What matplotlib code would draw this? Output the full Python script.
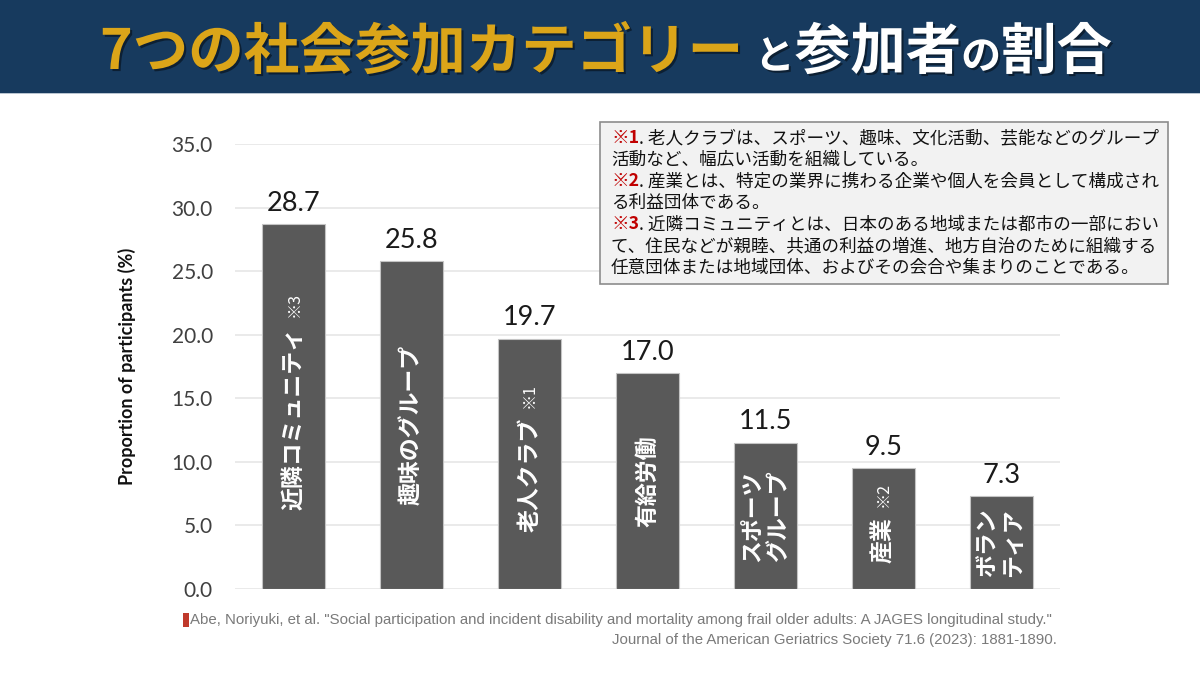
import numpy as np
import matplotlib
matplotlib.use('Agg')
import matplotlib.pyplot as plt
from matplotlib.patches import Rectangle
from matplotlib.transforms import IdentityTransform
import matplotlib.font_manager as fm
import matplotlib.patheffects as pe

# ---------------- data ----------------
categories = ['近隣コミュニティ', '趣味のグループ', '老人クラブ', '有給労働',
              'スポーツ\nグループ', '産業', 'ボラン\nティア']
category_marks = ['※3', '', '※1', '', '', '※2', '']
values = [28.7, 25.8, 19.7, 17.0, 11.5, 9.5, 7.3]
yticks = [0, 5, 10, 15, 20, 25, 30, 35]
ylabel = 'Proportion of participants (%)'

title_runs = [('7つの社会参加カテゴリー', 'gold', 1.0), ('と', 'white', 0.72),
              ('参加者', 'white', 1.0), ('の', 'white', 0.72), ('割合', 'white', 1.0)]

note_lines = [
    ('※1', '. 老人クラブは、スポーツ、趣味、文化活動、芸能などのグループ'),
    ('', '活動など、幅広い活動を組織している。'),
    ('※2', '. 産業とは、特定の業界に携わる企業や個人を会員として構成され'),
    ('', 'る利益団体である。'),
    ('※3', '. 近隣コミュニティとは、日本のある地域または都市の一部におい'),
    ('', 'て、住民などが親睦、共通の利益の増進、地方自治のために組織する'),
    ('', '任意団体または地域団体、およびその会合や集まりのことである。'),
]
citation_1 = 'Abe, Noriyuki, et al. "Social participation and incident disability and mortality among frail older adults: A JAGES longitudinal study."'
citation_2 = 'Journal of the American Geriatrics Society 71.6 (2023): 1881-1890.'

# ---------------- style ----------------
JP = ['Noto Sans CJK JP', 'DejaVu Sans']
NUM = ['Lato', 'DejaVu Sans']
avail = {f.name for f in fm.fontManager.ttflist}
CITE = ['Liberation Sans Narrow'] if 'Liberation Sans Narrow' in avail else ['Liberation Sans']
NAVY = '#173a5e'
GOLD = '#dba519'
BAR = '#595959'

W, H = 1200, 675
fig = plt.figure(figsize=(12, 6.75), dpi=100)
fig.patch.set_facecolor('white')
ID = IdentityTransform()


def fx(px):
    return px / W


def fy(py):
    return 1 - py / H


renderer = fig.canvas.get_renderer()


def text_w(s, **kw):
    t = fig.text(0, 0, s, **kw)
    bb = t.get_window_extent(renderer)
    t.remove()
    return bb.width


# header band
fig.patches.append(Rectangle((0, fy(93)), 1, 93 / H, transform=fig.transFigure,
                             facecolor=NAVY, edgecolor='none', zorder=0))
fig.patches.append(Rectangle((0, fy(94)), 1, 1 / H, transform=fig.transFigure,
                             facecolor='#b8c4d0', edgecolor='none', zorder=0))

# title
base = 38
widths = []
for txt, col, sc in title_runs:
    widths.append(text_w(txt, fontsize=base * sc, fontweight='bold', family=JP))
scale = 1000 / sum(widths)
size = base * scale
x0 = 600 - 1000 / 2
baseline = H - 69
for k, ((txt, col, sc), w) in enumerate(zip(title_runs, widths)):
    c = GOLD if col == 'gold' else 'white'
    if k == 1:
        x0 += 12
    fig.text(x0, baseline, txt, transform=ID, fontsize=size * sc, fontweight='bold',
             family=JP, color=c, ha='left', va='baseline',
             path_effects=[pe.SimplePatchShadow(offset=(1.5, -1.5), shadow_rgbFace='black', alpha=0.45),
                           pe.Normal()])
    x0 += w * scale

# axes
ax = fig.add_axes([fx(235), fy(589), fx(1060) - fx(235), fy(144) - fy(589)])
x = np.arange(len(values))
ax.bar(x, values, width=0.534, color=BAR, edgecolor='#c4c4c4', linewidth=0.8, zorder=3)
ax.set_xlim(-0.5, len(values) - 0.5)
ax.set_ylim(0, 35)
ax.set_yticks(yticks)
ax.set_yticklabels([f'{v:.1f}' for v in yticks])
ax.grid(axis='y', color='#e6e6e6', linewidth=1.2, zorder=0)
ax.set_axisbelow(True)
for s in ax.spines.values():
    s.set_visible(False)
ax.tick_params(axis='y', length=0, pad=16, labelsize=15, labelcolor='#404040')
ax.tick_params(axis='x', length=0, labelbottom=False)
for lab in ax.get_yticklabels():
    lab.set_family(NUM)
ax.set_ylabel(ylabel, family=NUM, fontweight='bold', fontsize=13, color='#111111')
ax.yaxis.set_label_coords((136 - 235) / 825, 0.5)

for i, v in enumerate(values):
    ax.annotate(f'{v:.1f}', (i, v), xytext=(0, 6), textcoords='offset points',
                ha='center', va='bottom', fontsize=19.5, family=NUM, color='#1a1a1a')

# bar labels (rotated)
fig.canvas.draw()
for i, (cat, mark, v) in enumerate(zip(categories, category_marks, values)):
    cx, cy = ax.transData.transform((i, v / 2))
    main_kw = dict(fontsize=16.5, fontweight='bold', family=JP, color='white')
    suf_kw = dict(fontsize=11.5, family=JP, color='white')
    wm = text_w(cat, **main_kw)
    gap = 10
    ws = text_w(mark, **suf_kw) if mark else 0
    total = wm + (gap + ws if mark else 0)
    start = cy - total / 2 + (6 if mark else 0)
    fig.text(cx, start + wm / 2, cat, transform=ID, rotation=90, ha='center', va='center',
             linespacing=1.15, zorder=5, **main_kw)
    if mark:
        fig.text(cx, start + wm + gap + ws / 2, mark, transform=ID, rotation=90,
                 ha='center', va='center', zorder=5, **suf_kw)

# note box
fig.patches.append(Rectangle((fx(600), fy(284)), (1168 - 600) / W, (284 - 122) / H,
                             transform=fig.transFigure, facecolor='#f2f2f2',
                             edgecolor='#8c8c8c', linewidth=1.2, zorder=1))
nb = 11.0
lw0 = (text_w(note_lines[0][0], fontsize=nb, fontweight='bold', family=JP)
       + text_w(note_lines[0][1], fontsize=nb, family=JP))
nsize = nb * (1157 - 611) / lw0
for k, (mark, txt) in enumerate(note_lines):
    yb = H - (143 + k * 21.6)
    xp = 611
    if mark:
        fig.text(xp, yb, mark, transform=ID, fontsize=nsize, fontweight='bold', family=JP,
                 color='#c00000', ha='left', va='baseline', zorder=2)
        xp += text_w(mark, fontsize=nsize, fontweight='bold', family=JP)
    fig.text(xp, yb, txt, transform=ID, fontsize=nsize, family=JP, color='#111111',
             ha='left', va='baseline', zorder=2)

# citation
fig.patches.append(Rectangle((fx(183), fy(627)), 6 / W, 14 / H, transform=fig.transFigure,
                             facecolor='#c0392b', edgecolor='none'))
cw = text_w(citation_1, fontsize=10, family=CITE)
csize = 10 * (1057 - 190) / cw
fig.text(190, H - 620, citation_1, transform=ID, fontsize=csize, family=CITE, color='#7a7a7a',
         ha='left', va='center')
fig.text(1057, H - 640, citation_2, transform=ID, fontsize=csize, family=CITE, color='#7a7a7a',
         ha='right', va='center')

fig.savefig('out.png', dpi=100)
